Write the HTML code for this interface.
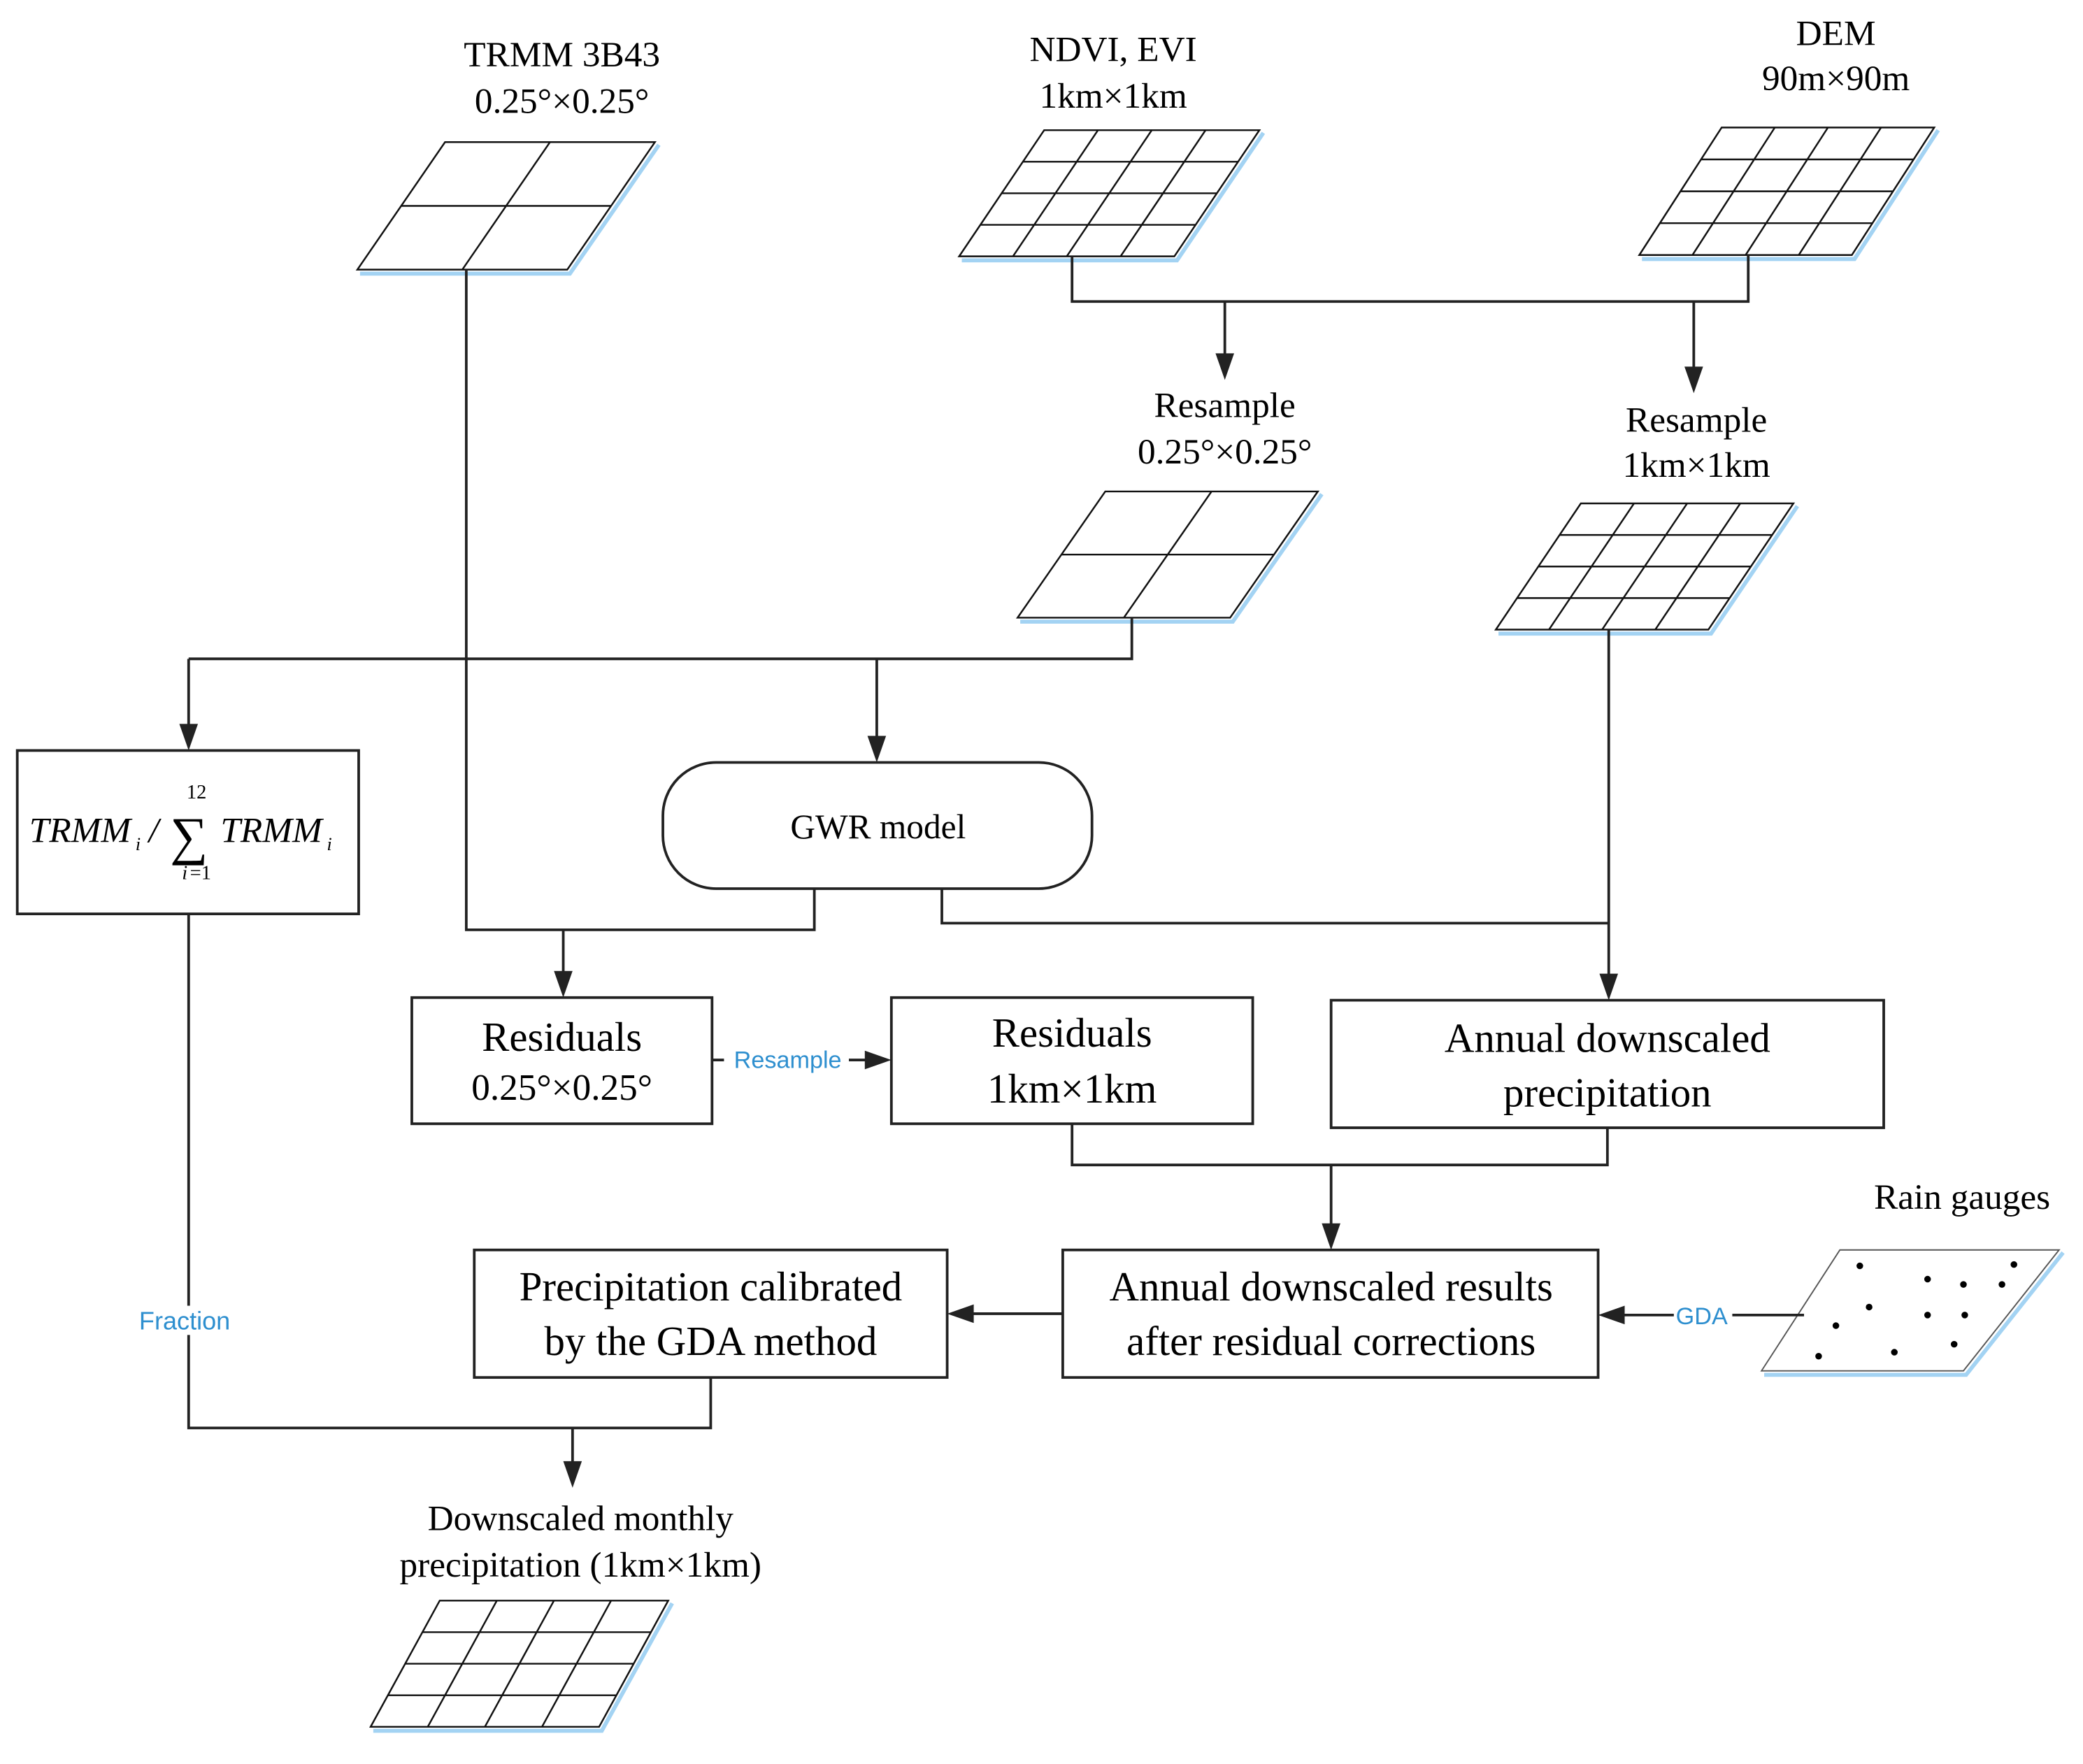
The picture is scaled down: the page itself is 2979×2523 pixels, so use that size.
<!DOCTYPE html>
<html><head><meta charset="utf-8"><style>
html,body{margin:0;padding:0;background:#fff;}
svg{display:block;}
text{font-family:"Liberation Serif",serif;fill:#000;}
.s{font-family:"Liberation Sans",sans-serif;fill:#2e8fcf;}
</style></head><body>
<svg width="2979" height="2523" viewBox="0 0 1568 1328" preserveAspectRatio="none" xmlns="http://www.w3.org/2000/svg">
<g stroke="#8cc8f0" stroke-width="3" fill="none" opacity="0.8">
<polyline points="271,206 429,206 496,109"/>
<polyline points="724,196 886,196 951,100"/>
<polyline points="1236,195 1396,195 1459,98"/>
<polyline points="768,468 928,468 995,372"/>
<polyline points="1128,477 1288,477 1353,381"/>
<polyline points="281,1303 453,1303 506,1207"/>
<polyline points="1328,1035 1480,1035 1553,943"/>
</g>
<g stroke="#111" stroke-width="1.3" fill="#fff">
<polygon points="335,107 493,107 427,203 269,203"/>
<polygon points="786,98 948,98 884,193 722,193"/>
<polygon points="1296,96 1456,96 1394,192 1234,192"/>
<polygon points="832,370 992,370 926,465 766,465"/>
<polygon points="1190,379 1350,379 1286,474 1126,474"/>
<polygon points="331,1205 503,1205 451,1300 279,1300"/>
<polygon points="1385,941 1550,941 1478,1032 1326,1032" stroke="#555" stroke-width="1"/>
</g>
<g stroke="#111" stroke-width="1.3">
<line x1="302" y1="155" x2="460" y2="155"/><line x1="414" y1="107" x2="348" y2="203"/>
<line x1="770" y1="121.75" x2="932" y2="121.75"/><line x1="826.5" y1="98" x2="762.5" y2="193"/>
<line x1="754" y1="145.5" x2="916" y2="145.5"/><line x1="867" y1="98" x2="803" y2="193"/>
<line x1="738" y1="169.25" x2="900" y2="169.25"/><line x1="907.5" y1="98" x2="843.5" y2="193"/>
<line x1="1280.5" y1="120" x2="1440.5" y2="120"/><line x1="1336" y1="96" x2="1274" y2="192"/>
<line x1="1265" y1="144" x2="1425" y2="144"/><line x1="1376" y1="96" x2="1314" y2="192"/>
<line x1="1249.5" y1="168" x2="1409.5" y2="168"/><line x1="1416" y1="96" x2="1354" y2="192"/>
<line x1="799" y1="417.5" x2="959" y2="417.5"/><line x1="912" y1="370" x2="846" y2="465"/>
<line x1="1174" y1="402.75" x2="1334" y2="402.75"/><line x1="1230" y1="379" x2="1166" y2="474"/>
<line x1="1158" y1="426.5" x2="1318" y2="426.5"/><line x1="1270" y1="379" x2="1206" y2="474"/>
<line x1="1142" y1="450.25" x2="1302" y2="450.25"/><line x1="1310" y1="379" x2="1246" y2="474"/>
<line x1="318" y1="1228.75" x2="490" y2="1228.75"/><line x1="374" y1="1205" x2="322" y2="1300"/>
<line x1="305" y1="1252.5" x2="477" y2="1252.5"/><line x1="417" y1="1205" x2="365" y2="1300"/>
<line x1="292" y1="1276.25" x2="464" y2="1276.25"/><line x1="460" y1="1205" x2="408" y2="1300"/>
</g>
<g fill="#000">
<circle cx="1400" cy="953" r="2.5"/><circle cx="1451" cy="963" r="2.5"/><circle cx="1478" cy="967" r="2.5"/>
<circle cx="1516" cy="952" r="2.5"/><circle cx="1507" cy="967" r="2.5"/><circle cx="1407" cy="984" r="2.5"/>
<circle cx="1451" cy="990" r="2.5"/><circle cx="1479" cy="990" r="2.5"/><circle cx="1382" cy="998" r="2.5"/>
<circle cx="1369" cy="1021" r="2.5"/><circle cx="1426" cy="1018" r="2.5"/><circle cx="1471" cy="1012" r="2.5"/>
</g>
<g stroke="#222" stroke-width="2" fill="none">
<rect x="13" y="565" width="257" height="123"/>
<rect x="499" y="574" width="323" height="95" rx="40"/>
<rect x="310" y="751" width="226" height="95"/>
<rect x="671" y="751" width="272" height="95"/>
<rect x="1002" y="753" width="416" height="96"/>
<rect x="800" y="941" width="403" height="96"/>
<rect x="357" y="941" width="356" height="96"/>
<polyline points="351,203 351,700 613,700 613,669"/>
<line x1="424" y1="700" x2="424" y2="737"/>
<polyline points="852,465 852,496 142,496"/>
<line x1="142" y1="496" x2="142" y2="551"/>
<line x1="660" y1="496" x2="660" y2="560"/>
<polyline points="807,193 807,227 1316,227 1316,192"/>
<line x1="922" y1="227" x2="922" y2="272"/>
<line x1="1275" y1="227" x2="1275" y2="282"/>
<line x1="1211" y1="474" x2="1211" y2="739"/>
<polyline points="709,669 709,695 1211,695"/>
<line x1="536" y1="798" x2="657" y2="798"/>
<polyline points="807,846 807,877 1210,877 1210,849"/>
<line x1="1002" y1="877" x2="1002" y2="927"/>
<line x1="1358" y1="990" x2="1217" y2="990"/>
<line x1="800" y1="989" x2="727" y2="989"/>
<polyline points="142,688 142,1075 535,1075 535,1037"/>
<line x1="431" y1="1075" x2="431" y2="1106"/>
</g>
<g fill="#222">
<polygon points="417,731 431,731 424,751"/>
<polygon points="135,545 149,545 142,565"/>
<polygon points="653,554 667,554 660,574"/>
<polygon points="915,266 929,266 922,286"/>
<polygon points="1268,276 1282,276 1275,296"/>
<polygon points="1204,733 1218,733 1211,753"/>
<polygon points="651,791 651,805 671,798"/>
<polygon points="995,921 1009,921 1002,941"/>
<polygon points="1223,983 1223,997 1203,990"/>
<polygon points="733,982 733,996 713,989"/>
<polygon points="424,1100 438,1100 431,1120"/>
</g>
<rect x="545" y="786" width="94" height="22" fill="#fff"/>
<rect x="1260" y="980" width="44" height="22" fill="#fff"/>
<rect x="100" y="983" width="80" height="22" fill="#fff"/>
<text class="s" x="593" y="804" font-size="18" text-anchor="middle">Resample</text>
<text class="s" x="1281" y="997" font-size="18" text-anchor="middle">GDA</text>
<text class="s" x="139" y="1001" font-size="19" text-anchor="middle">Fraction</text>
<g font-size="27" text-anchor="middle">
<text x="423" y="50">TRMM 3B43</text>
<text x="423" y="85">0.25°×0.25°</text>
<text x="838" y="46">NDVI, EVI</text>
<text x="838" y="81">1km×1km</text>
<text x="1382" y="34">DEM</text>
<text x="1382" y="68">90m×90m</text>
<text x="922" y="314">Resample</text>
<text x="922" y="349">0.25°×0.25°</text>
<text x="1277" y="325">Resample</text>
<text x="1277" y="359">1km×1km</text>
<text x="1477" y="910">Rain gauges</text>
<text x="437" y="1152">Downscaled monthly</text>
<text x="437" y="1187">precipitation (1km×1km)</text>
<text x="661" y="631" font-size="26">GWR model</text>
</g>
<g font-size="31" text-anchor="middle">
<text x="423" y="791">Residuals</text>
<text x="423" y="828" font-size="28">0.25°×0.25°</text>
<text x="807" y="788">Residuals</text>
<text x="807" y="830">1km×1km</text>
<text x="1210" y="792">Annual downscaled</text>
<text x="1210" y="833">precipitation</text>
<text x="1002" y="979">Annual downscaled results</text>
<text x="1002" y="1020">after residual corrections</text>
<text x="535" y="979">Precipitation calibrated</text>
<text x="535" y="1020">by the GDA method</text>
</g>
<g font-style="italic" font-size="27">
<text x="22" y="634">TRMM</text>
<text x="102" y="640" font-size="14">i</text>
<text x="112" y="634">/</text>
<text x="166" y="634">TRMM</text>
<text x="246" y="640" font-size="14">i</text>
<text x="137" y="662" font-size="15">i</text>
</g>
<text x="128" y="643" font-size="40">∑</text>
<text x="148" y="601" font-size="15" text-anchor="middle">12</text>
<text x="143" y="662" font-size="15">=1</text>
</svg>
</body></html>
